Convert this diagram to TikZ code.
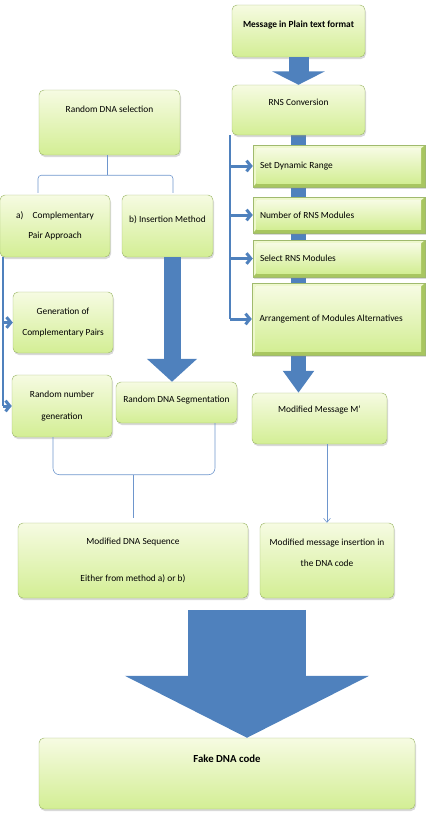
\documentclass[tikz,border=0pt]{standalone}
\usepackage{fontspec}
\setmainfont{Carlito}
\usetikzlibrary{positioning, arrows.meta, calc, shadows, backgrounds}

\definecolor{BoxTop}{RGB}{246,251,226}
\definecolor{BoxBottom}{RGB}{211,238,148}
\definecolor{BoxLine}{RGB}{160,186,110}
\definecolor{BevelLight}{RGB}{238,248,205}
\definecolor{BevelDark}{RGB}{168,198,96}
\definecolor{ArrowBlue}{RGB}{79,129,189}
\definecolor{LinkBlue}{RGB}{110,150,205}

\tikzset{
  dims/.style 2 args={minimum width=#1*0.3mm, minimum height=#2*0.3mm},
  lift/.style={text depth=#1},
  stage/.style={draw=BoxLine, rounded corners=1.5mm, top color=BoxTop, bottom color=BoxBottom,
    drop shadow={opacity=0.3, shadow xshift=0.3mm, shadow yshift=-0.6mm},
    inner sep=1pt, align=center, font=\fontsize{8}{9.6}\selectfont},
  bevel/.style={draw=BoxLine, fill=BevelDark, inner sep=0pt, inner xsep=2.1mm,
    text width=47.4mm, align=flush left, font=\fontsize{8}{9.6}\selectfont,
    drop shadow={opacity=0.3, shadow xshift=0.3mm, shadow yshift=-0.6mm},
    path picture={
      \fill[BevelLight] (path picture bounding box.north west) -- (path picture bounding box.north east)
        -- ([shift={(-1.2mm,-1mm)}]path picture bounding box.north east)
        -- ([shift={(1mm,-1mm)}]path picture bounding box.north west)
        -- ([shift={(1mm,1.2mm)}]path picture bounding box.south west)
        -- (path picture bounding box.south west) -- cycle;
      \shade[top color=BoxTop, bottom color=BoxBottom]
        ([shift={(1mm,-1mm)}]path picture bounding box.north west)
        rectangle ([shift={(-1.2mm,1.2mm)}]path picture bounding box.south east);
    }},
  bigarrow/.style={draw=ArrowBlue, line width=#1},
  trunk/.style={draw=ArrowBlue, line width=0.6mm},
  twig/.style={draw=ArrowBlue, line width=0.9mm, -{Straight Barb[length=1.3mm, width=3.2mm]}},
  link/.style={draw=LinkBlue, line width=0.5pt},
}

\begin{document}
\begin{tikzpicture}[x=0.3mm, y=-0.3mm]
\useasboundingbox (0,0) rectangle (427,819);

% right column: message and RNS steps
\node[stage, dims={133}{52}, lift=4.2mm, font=\fontsize{8}{9.6}\selectfont\bfseries] (msg) at (298.5,31) {Message in Plain text format};
\node[stage, dims={133}{50}, lift=4.8mm] (rns) at (298.5,110) {RNS Conversion};
\node[bevel, dims={172}{42}] (dyn) at (339,166) {Set Dynamic Range};
\node[bevel, dims={172}{36}] (num) at (339,215) {Number of RNS Modules};
\node[bevel, dims={172}{37}] (slc) at (339,258.5) {Select RNS Modules};
\node[bevel, dims={173}{72}] (arr) at (338.5,319) {Arrangement of Modules Alternatives};
\node[stage, dims={135}{51}, lift=5.7mm] (mm) at (319.5,418.5) {Modified Message M'};

% left column: DNA selection
\node[stage, dims={141}{65}, lift=8.1mm] (sel) at (109.5,122.5) {Random DNA selection};
\node[stage, dims={110}{62}] (compa) at (55,226) {a)\quad Complementary\\[2.6mm]Pair Approach};
\node[stage, dims={91}{62}, lift=4.2mm] (insm) at (167.5,226) {b) Insertion Method};
\node[stage, dims={100}{61}] (gen) at (63,322.5) {Generation of\\[3mm]Complementary Pairs};
\node[stage, dims={100}{62}] (rnd) at (62,406) {Random number\\[3mm]generation};
\node[stage, dims={121}{41}, lift=2mm] (seg) at (176.5,402.5) {Random DNA Segmentation};

% bottom row
\node[stage, dims={230}{75}] (mds) at (133,560.5) {Modified DNA Sequence\\[7.7mm]Either from method a) or b)};
\node[stage, dims={134}{75}, lift=4.5mm] (ins) at (327,560.5) {Modified message insertion in\\[3mm]the DNA code};
\node[stage, dims={376}{71}, lift=8.7mm, font=\fontsize{9.2}{11}\selectfont\bfseries] (fake) at (227,773.5) {Fake DNA code};

% block arrows
\begin{scope}[on background layer]
  \draw[bigarrow=4.5mm, -{Triangle[width=9mm, length=6.6mm]}] (rns.south) -- (rns.south |- mm.north);
\end{scope}
\draw[bigarrow=6mm, -{Triangle[width=15.6mm, length=4mm]}] (msg) -- (rns);
\coordinate (ib) at ($(insm.south)+(4.5,0)$);
\draw[bigarrow=5.1mm, -{Triangle[width=14.7mm, length=6.9mm]}] (ib) -- (ib |- seg.north);
\coordinate (drop) at ($(fake.north)+(20,-128)$);
\draw[bigarrow=35.4mm, -{Triangle[width=72.6mm, length=18.6mm]}] (drop) -- (drop |- fake.north);

% branch lines
\coordinate (rtrunk) at ($(rns.south west)+(-2,0)$);
\draw[trunk] (rtrunk) -- (rtrunk |- arr.west);
\foreach \n in {dyn,num,slc,arr}
  \draw[twig] (rtrunk |- \n.west) -- (\n.west);
\coordinate (ltrunk) at ($(compa.south west)+(3,0)$);
\draw[trunk] (ltrunk) -- (ltrunk |- rnd.west);
\foreach \n in {gen,rnd}
  \draw[twig] (ltrunk |- \n.west) -- (\n.west);

% braces
\coordinate (selj) at ($(sel.south)+(-2.5,20)$);
\draw[link] (sel.south -| selj) -- (selj);
\draw[link, rounded corners=1mm] ($(compa.north)+(-17,-2)$) |- (selj) -| ($(insm.north)+(5.5,-2)$);
\coordinate (mdsj) at ($(mds.north)+(0,-48)$);
\draw[link, rounded corners=2mm] ($(rnd.south)+(-9,0)$) |- (mdsj) -| ($(seg.south)+(38.5,0)$);
\draw[link, shorten >=1.5mm] (mdsj) -- (mds.north);
\draw[link, -{Straight Barb[length=1.2mm, width=2mm]}] (mm.south -| ins.north) -- (ins.north);
\end{tikzpicture}
\end{document}
